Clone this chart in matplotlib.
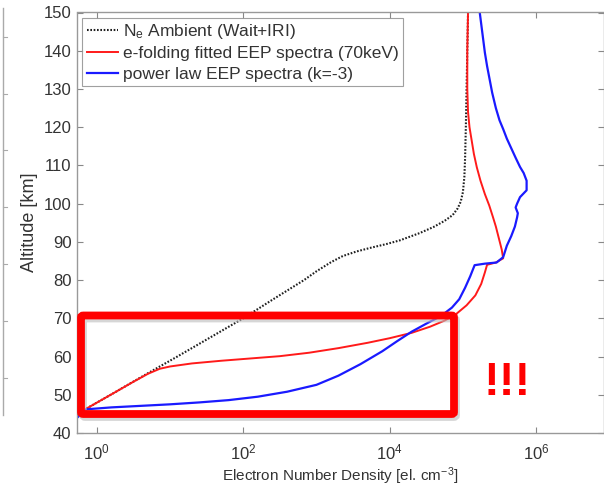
import matplotlib
matplotlib.use('Agg')
import matplotlib.pyplot as plt
from matplotlib.patches import FancyBboxPatch
from matplotlib.lines import Line2D
import numpy as np

plt.rcParams['font.family'] = ['Liberation Sans', 'DejaVu Sans']
plt.rcParams['mathtext.default'] = 'regular'

# Ambient electron density profile (log10 el/cm^3 vs altitude km)
alt_amb = [46.4, 50, 55, 60, 65, 70, 75, 80, 82.3, 84.7, 86.3, 87.5, 88.5,
           89.4, 90.4, 92.3, 93.9, 95.5, 97, 98.8, 100.5, 103, 107, 112, 120,
           130, 140, 150]
log_amb = [-0.14, 0.19, 0.64, 1.1, 1.55, 2.0, 2.41, 2.83, 3.0, 3.2, 3.36, 3.55,
           3.75, 3.95, 4.14, 4.41, 4.6, 4.75, 4.86, 4.93, 4.97, 5.0, 5.02, 5.03,
           5.04, 5.05, 5.06, 5.07]

# e-folding fitted EEP spectra (70 keV)
alt_efold = [46.4, 50, 53.4, 55.5, 56.8, 57.4, 58.2, 58.9, 59.5, 60.1, 61.0,
             62.2, 63.6, 64.8, 66.2, 67.8, 69.4, 71.0, 73.4, 76, 79, 82, 84.0,
             84.6, 85.7, 88, 91, 94, 96.5, 99.5, 102.5, 106, 109.5, 113, 116.5,
             120, 124, 130, 140, 150]
log_efold = [-0.14, 0.19, 0.5, 0.7, 0.86, 1.0, 1.3, 1.7, 2.1, 2.5, 2.9, 3.3,
             3.7, 4.0, 4.3, 4.55, 4.75, 4.9, 5.05, 5.17, 5.25, 5.3, 5.33, 5.45,
             5.55, 5.53, 5.49, 5.45, 5.41, 5.36, 5.3, 5.24, 5.19, 5.15, 5.12,
             5.09, 5.07, 5.06, 5.06, 5.07]

# power law EEP spectra (k=-3)
alt_plaw = [43.8, 46.2, 46.7, 47.1, 47.5, 48.0, 48.6, 49.5, 50.8, 52.6, 55.0,
            58.0, 61.4, 64.0, 66.5, 68.6, 70.6, 72.8, 75.0, 78.0, 81.0, 83.9,
            84.3, 84.6, 86, 89, 91.5, 94, 96.4, 97.5, 99, 100, 101.7, 103.5,
            106, 108, 109.6, 112, 114.5, 117, 119.5, 121.8, 125, 129, 133, 136,
            139.5, 144, 150]
log_plaw = [-0.28, -0.14, 0.2, 0.6, 1.0, 1.4, 1.8, 2.2, 2.6, 3.0, 3.3, 3.6,
            3.9, 4.1, 4.3, 4.5, 4.7, 4.85, 4.95, 5.03, 5.1, 5.16, 5.3, 5.46,
            5.55, 5.6, 5.66, 5.71, 5.74, 5.75, 5.72, 5.74, 5.78, 5.87, 5.87,
            5.83, 5.78, 5.72, 5.66, 5.6, 5.55, 5.5, 5.45, 5.4, 5.36, 5.33, 5.3,
            5.27, 5.23]

xticks = [1e0, 1e2, 1e4, 1e6]
yticks = list(range(40, 151, 10))

W, H = 604, 488
fig = plt.figure(figsize=(W / 100, H / 100), dpi=100)

# main axes, right edge runs to the figure border
ax = fig.add_axes([77 / W, (H - 433) / H, (603.5 - 77) / W, (433 - 12.5) / H])

ax.plot(10 ** np.array(log_amb), alt_amb, color='#202020', lw=1.5,
        linestyle=(0, (0.8, 0.8)), label=r'N$_e$ Ambient (Wait+IRI)')
ax.plot(10 ** np.array(log_efold), alt_efold, '-', color='#ff1a1a', lw=1.4,
        label='e-folding fitted EEP spectra (70keV)')
ax.plot(10 ** np.array(log_plaw), alt_plaw, '-', color='#1a1aff', lw=1.6,
        label='power law EEP spectra (k=-3)')

ax.set_xscale('log')
ax.set_xlim(10 ** -0.27, 10 ** 6.92)
ax.set_ylim(40, 150)
ax.set_xticks(xticks)
ax.minorticks_off()
ax.set_yticks(yticks)
ax.tick_params(axis='both', direction='in', top=True, right=True, length=4,
               color='#888888', labelsize=12, labelcolor='#333333')
ax.tick_params(axis='x', pad=7)
ax.tick_params(axis='y', pad=4)
for s in ax.spines.values():
    s.set_color('#999999')
    s.set_linewidth(1.0)

ax.set_xlabel('Electron Number Density [el. cm$^{-3}$]', fontsize=11,
              color='#333333', labelpad=2)
ax.set_ylabel('Altitude [km]', fontsize=13, color='#333333', labelpad=4)

leg = ax.legend(loc='upper left', fontsize=12.5, frameon=True, fancybox=False,
                handlelength=1.8, borderaxespad=0.3, labelspacing=0.3,
                handletextpad=0.3, borderpad=0.25)
leg.get_frame().set_edgecolor('#888888')
leg.get_frame().set_linewidth(0.8)
for t in leg.get_texts():
    t.set_color('#333333')

# highlight box over the lower region
def px(x, y):
    return x / W, (H - y) / H

x0, y0 = px(81, 414)
x1, y1 = px(454, 315.5)
shadow = FancyBboxPatch((x0 + 2 / W, y0 - 3 / H), x1 - x0, y1 - y0,
                        boxstyle='round,pad=0,rounding_size=0.004',
                        transform=fig.transFigure, fill=False,
                        edgecolor='#bbbbbb', lw=5.6, alpha=0.6)
box = FancyBboxPatch((x0, y0), x1 - x0, y1 - y0,
                     boxstyle='round,pad=0,rounding_size=0.004',
                     transform=fig.transFigure, fill=False,
                     edgecolor='#ff0000', lw=5.6)
fig.patches.extend([shadow, box])

fig.text(507 / W, (H - 383) / H, '!!!', color='#ff0000', fontsize=34,
         fontweight='bold', ha='center', va='center',
         family=['Liberation Sans', 'DejaVu Sans'])

# edge of the neighbouring panel on the left
fig.add_artist(Line2D([3 / W, 3 / W], [(H - 8) / H, (H - 415) / H],
                      transform=fig.transFigure, color='#aaaaaa', lw=1.0))
for ty in [37, 93.5, 150, 207, 263.5, 321, 378]:
    fig.add_artist(Line2D([3 / W, 7 / W], [(H - ty) / H, (H - ty) / H],
                          transform=fig.transFigure, color='#aaaaaa', lw=0.8))

fig.savefig('out.png', dpi=100)
